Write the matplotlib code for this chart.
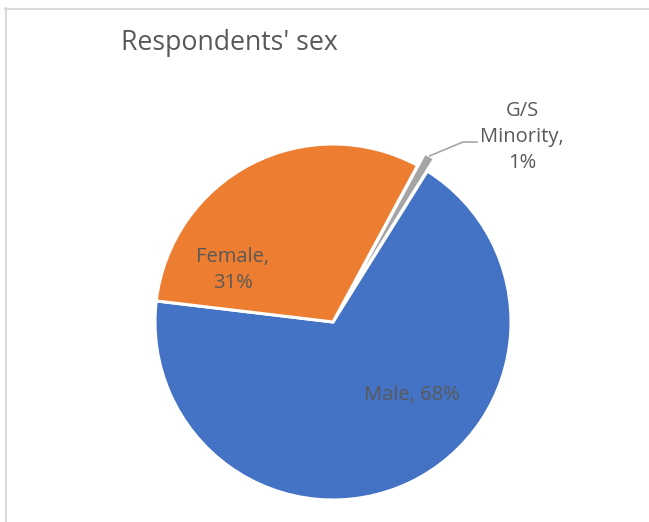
import numpy as np
import matplotlib
matplotlib.use('Agg')
import matplotlib.pyplot as plt
from matplotlib.lines import Line2D

# --- Data ---
categories = ['Male', 'Female', 'G/S\nMinority']
shares = [68, 31, 1]
colors = ['#4472C4', '#ED7D31', '#A5A5A5']
explode = [0, 0, 0.08]

TEXT = '#595959'
FONT = 'Open Sans'

W, H = 649, 522
fig = plt.figure(figsize=(W / 100, H / 100), dpi=100)

# chart area border (light gray, top and left visible)
fig.add_artist(Line2D([5 / W, 1], [1 - 8.5 / H, 1 - 8.5 / H],
                      color='#D9D9D9', lw=1.5, transform=fig.transFigure))
fig.add_artist(Line2D([6 / W, 6 / W], [0, 1 - 8 / H],
                      color='#D9D9D9', lw=1.5, transform=fig.transFigure))

fig.text(121 / W, 1 - 50 / H, "Respondents' sex", ha='left', va='baseline',
         fontsize=19.2, color=TEXT, family=FONT)

# pie: center (333, 322) px, radius 178 px
cx, cy, r = 333, 322, 178
ax = fig.add_axes([(cx - r) / W, (H - cy - r) / H, 2 * r / W, 2 * r / H])
wedges, _ = ax.pie(shares, colors=colors, explode=explode, startangle=58,
                   counterclock=False,
                   wedgeprops=dict(edgecolor='white', linewidth=2.2))
ax.set_xlim(-1, 1)
ax.set_ylim(-1, 1)
ax.axis('off')

lab_kw = dict(ha='center', va='center', fontsize=14.5, color=TEXT,
              family=FONT, linespacing=1.4, clip_on=False)
ax.text(0.444, -0.410, f"{categories[0]}, {shares[0]}%", **lab_kw)
ax.text(-0.562, 0.292, f"{categories[1]},\n{shares[1]}%", **lab_kw)
ax.text(1.062, 1.040, f"{categories[2]},\n{shares[2]}%", **lab_kw)

# leader line from the exploded slice to its label
w = wedges[2]
mid = np.deg2rad((w.theta1 + w.theta2) / 2)
x0 = w.center[0] + w.r * np.cos(mid)
y0 = w.center[1] + w.r * np.sin(mid)
ax.plot([x0, 0.730, 0.809], [y0, 1.011, 1.011], color='#A6A6A6', lw=1.2,
        clip_on=False)

plt.savefig('out.png', dpi=100)
